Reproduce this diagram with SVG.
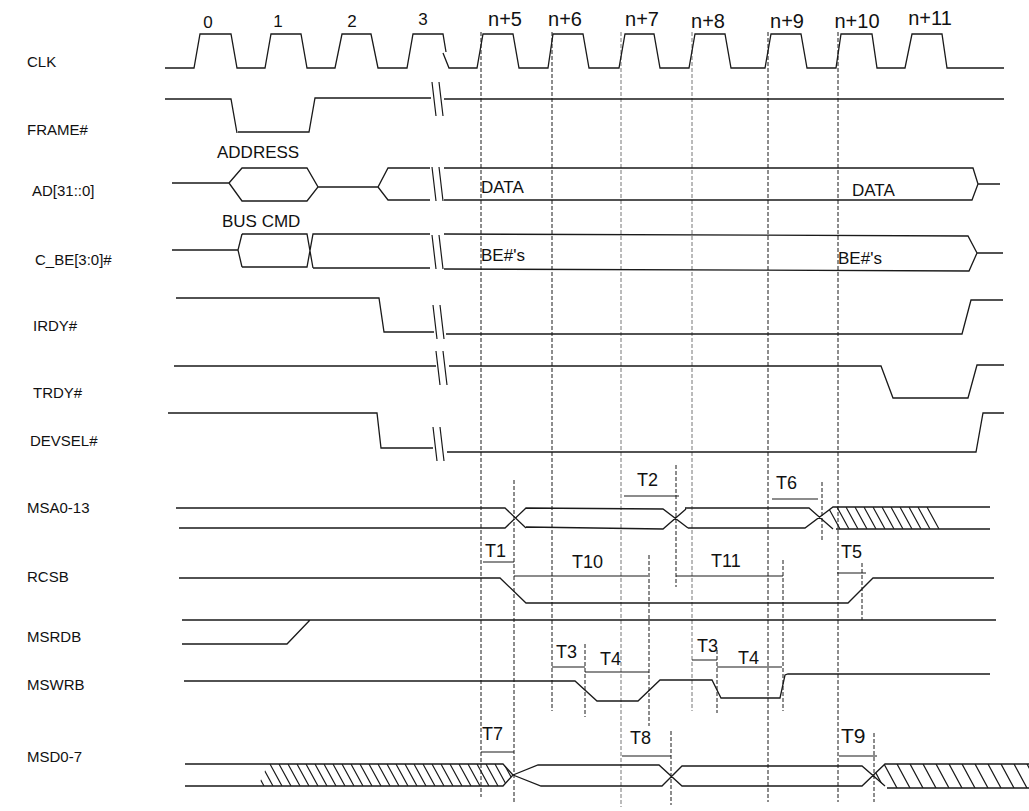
<svg xmlns="http://www.w3.org/2000/svg" width="1029" height="811" viewBox="0 0 1029 811">
<style>
.sig{fill:none;stroke:#1a1a1a;stroke-width:1.3;stroke-linejoin:miter}
.dash{fill:none;stroke:#1a1a1a;stroke-width:1;stroke-dasharray:4 2}
.dg{stroke:#777}
.bar{fill:none;stroke:#1a1a1a;stroke-width:1.2}
text{font-family:"Liberation Sans",Arial,sans-serif;fill:#111}
.lbl{font-size:15px}
.clk{font-size:17px}
.clkn{font-size:20px}
.bus{font-size:17px}
.t{font-size:18px}
</style>
<defs>
<path id="brk" d="M0,-17 L4,17 M7,-17 L11,17" fill="none" stroke="#1a1a1a" stroke-width="1.2"/>
<pattern id="hatchA" patternUnits="userSpaceOnUse" x="0" y="507" width="9" height="22">
<path d="M-18,0 L-6,22 M-9,0 L3,22 M0,0 L12,22 M9,0 L21,22" stroke="#1a1a1a" stroke-width="1.1"/>
</pattern>
<pattern id="hatchB" patternUnits="userSpaceOnUse" x="0" y="764" width="9" height="22">
<path d="M-18,0 L-6,22 M-9,0 L3,22 M0,0 L12,22 M9,0 L21,22" stroke="#1a1a1a" stroke-width="1.1"/>
</pattern>
<pattern id="hatchC" patternUnits="userSpaceOnUse" x="0" y="764" width="13" height="24">
<path d="M-26,0 L-13,24 M-13,0 L0,24 M0,0 L13,24 M13,0 L26,24" stroke="#1a1a1a" stroke-width="1.3"/>
</pattern>
</defs>

<g id="labels">
<text class="lbl" x="27" y="67">CLK</text>
<text class="lbl" x="27" y="135">FRAME#</text>
<text class="lbl" x="32" y="196">AD[31::0]</text>
<text class="lbl" x="35" y="265">C_BE[3:0]#</text>
<text class="lbl" x="33" y="331">IRDY#</text>
<text class="lbl" x="33" y="398">TRDY#</text>
<text class="lbl" x="30" y="446">DEVSEL#</text>
<text class="lbl" x="27" y="513">MSA0-13</text>
<text class="lbl" x="27" y="582">RCSB</text>
<text class="lbl" x="27" y="642">MSRDB</text>
<text class="lbl" x="27" y="690">MSWRB</text>
<text class="lbl" x="27" y="762">MSD0-7</text>
</g>

<g id="clk-labels" text-anchor="middle">
<text class="clk" x="208" y="28">0</text>
<text class="clk" x="278" y="27">1</text>
<text class="clk" x="352" y="27">2</text>
<text class="clk" x="423" y="25">3</text>
<text class="clkn" x="505" y="26">n+5</text>
<text class="clkn" x="565" y="26">n+6</text>
<text class="clkn" x="642" y="26">n+7</text>
<text class="clkn" x="708" y="28">n+8</text>
<text class="clkn" x="787" y="28">n+9</text>
<text class="clkn" x="857" y="28">n+10</text>
<text class="clkn" x="930" y="25">n+11</text>
</g>

<g id="timing-lines">
<path class="dash" d="M481,32 V797 M552,32 V711 M768,32 V802 M838,32 V802"/>
<path class="dash dg" d="M621,32 V807 M692,32 V711"/>
<path class="dash" d="M514,480 V802 M649,555 V726 M676,465 V587 M822,482 V541 M862,563 V620 M585,644 V717 M717,650 V713 M783,560 V711 M671,731 V805 M874,733 V802"/>
</g>

<g id="CLK">
<path class="sig" d="M165,68 H194 L200,34 H231 L237,68 H265 L271,34 H301 L307,68 H335 L342,34 H371 L378,68 H407 L413,34 H443 L446,52 M443,53 L449,68 H477 L483,34 H513 L519,68 H548 L553,34 H583 L589,68 H619 L625,34 H654 L660,68 H689 L695,34 H725 L731,68 H765 L771,34 H801 L807,68 H836 L841,34 H872 L877,68 H905 L912,34 H942 L947,68 H1004"/>
</g>

<g id="FRAME">
<path class="sig" d="M165,99 H231 L237,133 M238,132 H309 L315,98 H431 M444,99 H1004"/>
<use href="#brk" x="432" y="99"/>
</g>

<g id="AD">
<path class="sig" d="M172,183 H229 L242,168 H307 L318,187 L307,201 H242 L229,183 M318,187 H378 L388,168 H430 M378,187 L388,200 H430"/>
<path class="sig" d="M444,168 H973 L978,184 L972,200 H444 M978,184 H1000"/>
<use href="#brk" x="432" y="184"/>
<text class="bus" x="217" y="158">ADDRESS</text>
<text class="bus" x="481" y="193">DATA</text>
<text class="bus" x="852" y="196">DATA</text>
</g>

<g id="C_BE">
<path class="sig" d="M172,250 H238 M242,234 L238,250 L242,267 M242,234 H307 L313,268 M242,267 H307 L313,234 H430 M313,268 H430"/>
<path class="sig" d="M444,234 L968,236 L977,253 L969,271 L444,269 M977,253 H1003"/>
<use href="#brk" x="432" y="252"/>
<text class="bus" x="222" y="227">BUS CMD</text>
<text class="bus" x="481" y="261">BE#'s</text>
<text class="bus" x="838" y="264">BE#'s</text>
</g>

<g id="IRDY">
<path class="sig" d="M176,298 H379 L384,332 H434 M446,334 H962 L971,300 H1003"/>
<use href="#brk" x="433" y="322"/>
</g>

<g id="TRDY">
<path class="sig" d="M174,366 H436 M449,366 H881 L893,398 H968 L977,365 H1004"/>
<use href="#brk" x="436" y="368"/>
</g>

<g id="DEVSEL">
<path class="sig" d="M168,413 H377 L381,448 H433 M447,452 H976 L983,413 H1004"/>
<use href="#brk" x="433" y="444"/>
</g>

<g id="MSA">
<path class="sig" d="M176,508 H505 L526,528 M179,528 H505 L526,508 L663,509 L688,528 M526,527 L663,529 L686,509 M685,508 H809 L833,529 M688,528 H805 L833,507 H990 M836,529 H990"/>
<polygon points="826,512 833,507 930,507 940,529 836,529" fill="url(#hatchA)" stroke="none"/>
<path class="bar" d="M624,496 H679 M772,499 H818"/>
<text class="t" x="637" y="486">T2</text>
<text class="t" x="776" y="489">T6</text>
</g>

<g id="RCSB">
<path class="sig" d="M179,578 H500 L526,603 H848 L873,578 H994"/>
<path class="bar" d="M483,562 H514 M514,576 H648 M676,576 H783 M837,573 H866"/>
<text class="t" x="485" y="557">T1</text>
<text class="t" x="572" y="568">T10</text>
<text class="t" x="711" y="567">T11</text>
<text class="t" x="841" y="558">T5</text>
</g>

<g id="MSRDB">
<path class="sig" d="M182,620 H996 M182,644 H287 L310,620"/>
</g>

<g id="MSWRB">
<path class="sig" d="M184,681 H575 L597,701 H638 L660,680 H712 L721,698 H780 L785,675 L788,674 H990"/>
<path class="bar" d="M552,667 H585 M585,672 H649 M692,660 H717 M717,667 H782"/>
<text class="t" x="556" y="658">T3</text>
<text class="t" x="600" y="665">T4</text>
<text class="t" x="697" y="652">T3</text>
<text class="t" x="738" y="664">T4</text>
</g>

<g id="MSD">
<polygon points="268,764 503,764 513,775 503,786 258,786" fill="url(#hatchB)" stroke="none"/>
<polygon points="873,776 885,764 1029,764 1029,788 887,788" fill="url(#hatchC)" stroke="none"/>
<path class="sig" d="M185,764 H503 L513,775 L503,786 H185 M513,775 L538,765 H659 L682,786 H862 L885,764 H1029 M513,775 L541,786 H662 L682,766 H862 L885,786 M887,788 H1029"/>
<path class="bar" d="M481,752 H514 M622,756 H671 M839,756 H877"/>
<text class="t" x="482" y="740">T7</text>
<text class="t" x="630" y="744">T8</text>
<text x="841" y="743" style="font-size:21px">T9</text>
</g>
</svg>
